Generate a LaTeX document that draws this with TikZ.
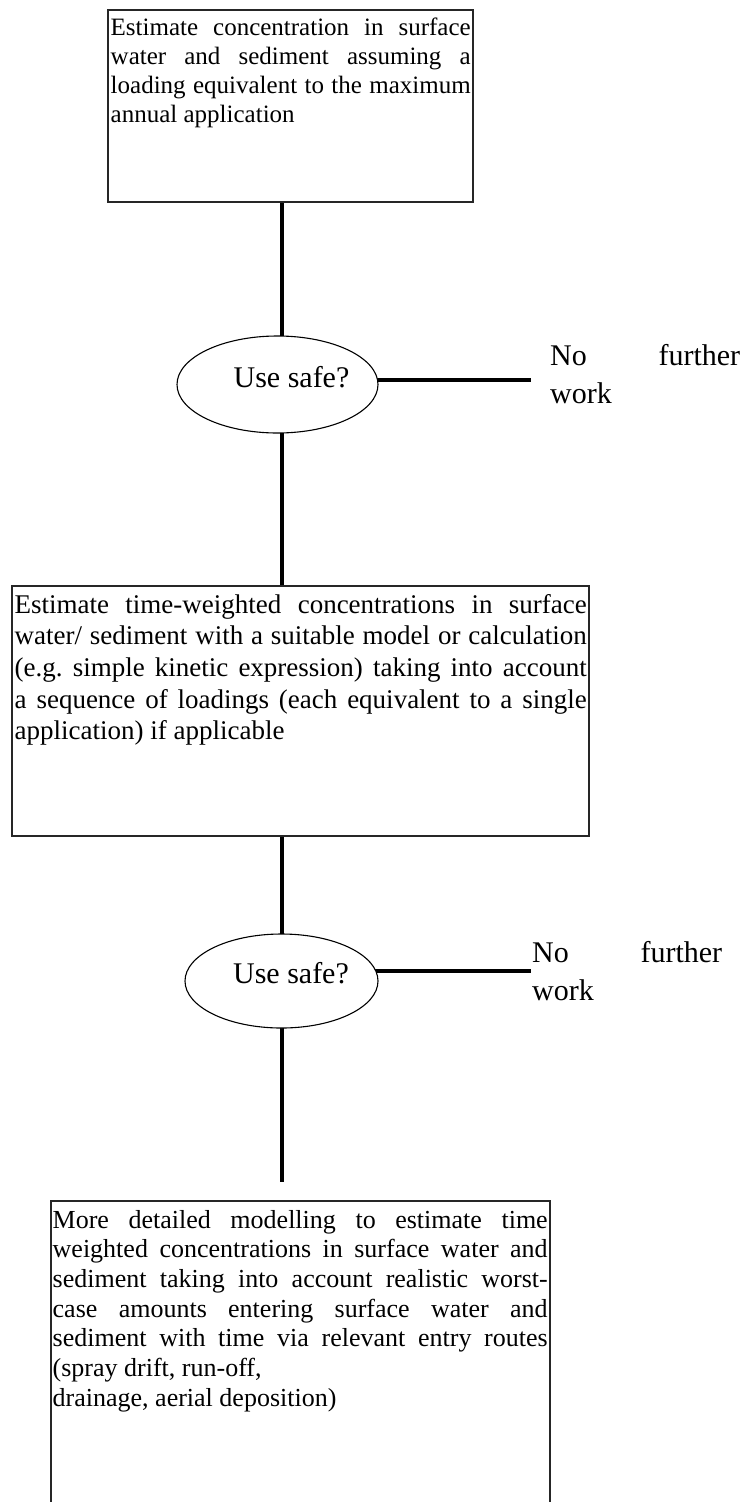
\documentclass[tikz,border=0pt]{standalone}
\usepackage{fontspec}
\setmainfont{Liberation Serif}
\usetikzlibrary{shapes.geometric,backgrounds}
\begin{document}
\begin{tikzpicture}[x=1pt,y=-1pt,
  boxshape/.style={draw=black!85, line width=1.2pt, fill=white, rectangle, inner sep=0pt},
  decshape/.style={draw=black, line width=1.1pt, fill=white, ellipse, inner sep=0pt},
  conn/.style={line width=4pt, draw=black},
  boxtext/.style={anchor=base west, inner sep=0pt, align=justify},
  lab/.style={inner sep=0pt, font=\fontsize{30}{38}\selectfont}
]
\useasboundingbox (0,0) rectangle (746,1502);
\clip (0,0) rectangle (746,1502);
% boxes
\node[boxshape, minimum width=365pt, minimum height=192pt] (b1) at (290.5,106) {};
\node[boxshape, minimum width=577pt, minimum height=250pt] (b2) at (300.5,711) {};
\node[boxshape, minimum width=499pt, minimum height=359pt] (b3) at (300.5,1380.5) {};
% decisions
\node[decshape, minimum width=201pt, minimum height=97pt] (e1) at (277.5,384.5) {};
\node[decshape, minimum width=193pt, minimum height=94pt] (e2) at (281.5,981) {};
% texts
\node[boxtext, text width=360pt, font=\fontsize{25}{29.3}\selectfont] (t1) at (110.5,35)
 {\frenchspacing Estimate concentration in surface\linebreak water and sediment assuming a\linebreak loading equivalent to the maximum\linebreak annual application};
\node[boxtext, text width=572pt, font=\fontsize{27}{31.7}\selectfont] (t2) at (14.5,613)
 {\frenchspacing Estimate time-weighted concentrations in surface\linebreak water/ sediment with a suitable model or calculation\linebreak (e.g. simple kinetic expression) taking into account\linebreak a sequence of loadings (each equivalent to a single\linebreak application) if applicable};
\node[boxtext, text width=495pt, font=\fontsize{26}{29.7}\selectfont] (t3) at (52.5,1228)
 {\frenchspacing More detailed modelling to estimate time\linebreak weighted concentrations in surface water and\linebreak sediment taking into account realistic worst-\linebreak case amounts entering surface water and\linebreak sediment with time via relevant entry routes\linebreak (spray drift, run-off,\newline drainage, aerial deposition)};
\node[lab, anchor=base] (u1) at (291.5,387) {Use safe?};
\node[lab, anchor=base] (u2) at (291,983) {Use safe?};
\node[lab, anchor=base west, text width=190pt, align=justify] (n1) at (550,365) {No further\linebreak work};
\node[lab, anchor=base west, text width=190pt, align=justify] (n2) at (532,962) {No further\linebreak work};
% connector helper coordinates
\coordinate (ax) at (281.5,0);
\coordinate (h1) at (531,380);
\coordinate (h2) at (531,971);
\coordinate (dend) at (281.5,1182);
\begin{scope}[on background layer]
\draw[conn] (b1.center -| ax) -- (e1.center -| ax);
\draw[conn] (e1.center -| ax) -- (b2.center -| ax);
\draw[conn] (b2.center -| ax) -- (e2.center -| ax);
\draw[conn] (e2.center -| ax) -- (dend);
\draw[conn] (e1.center |- h1) -- (h1);
\draw[conn] (e2.center |- h2) -- (h2);
\end{scope}
\end{tikzpicture}
\end{document}
